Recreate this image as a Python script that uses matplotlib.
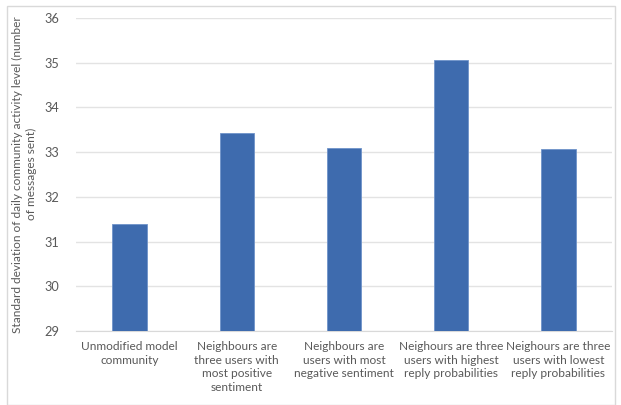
import matplotlib.pyplot as plt
from matplotlib.patches import Rectangle

categories = [
    'Unmodified model\ncommunity',
    'Neighbours are\nthree users with\nmost positive\nsentiment',
    'Neighbours are\nusers with most\nnegative sentiment',
    'Neighours are three\nusers with highest\nreply probabilities',
    'Neighours are three\nusers with lowest\nreply probabilities',
]
std_values = [31.39, 33.43, 33.09, 35.06, 33.07]
y_ticks = [29, 30, 31, 32, 33, 34, 35, 36]

plt.rcParams['font.family'] = ['Lato', 'DejaVu Sans']
text_color = '#595959'

fig = plt.figure(figsize=(6.21, 4.05), dpi=100)
ax = fig.add_axes([0.1224, 0.1827, 0.8631, 0.7729])

x = range(len(categories))
ax.bar(x, [v - 29 for v in std_values], bottom=29, width=0.32,
       color='#3e6bae', edgecolor='#6f93c9', linewidth=0.6, zorder=3)

ax.set_xlim(-0.5, len(categories) - 0.5)
ax.set_ylim(29, 36)
ax.set_yticks(y_ticks)
ax.set_yticklabels([str(t) for t in y_ticks], fontsize=9.2, color=text_color)
ax.set_xticks(list(x))
ax.set_xticklabels(categories, fontsize=8.6, color=text_color, linespacing=1.32, va='top')
ax.tick_params(axis='both', length=0)
ax.tick_params(axis='y', pad=12)
ax.tick_params(axis='x', pad=7)

ax.grid(axis='y', color='#e3e3e3', linewidth=1, zorder=0)
for side in ['top', 'right', 'left']:
    ax.spines[side].set_visible(False)
ax.spines['bottom'].set_color('#d9d9d9')

fig.text(0.04, 0.57, 'Standard deviation of daily community activity level (number\nof messages sent)',
         rotation=90, ha='center', va='center', fontsize=8.6, color=text_color,
         linespacing=1.3, multialignment='center')

fig.patches.append(Rectangle((0.011, 0.0), 0.979, 0.985, transform=fig.transFigure,
                             fill=False, edgecolor='#d9d9d9', linewidth=1))

fig.savefig('out.png', dpi=100)
